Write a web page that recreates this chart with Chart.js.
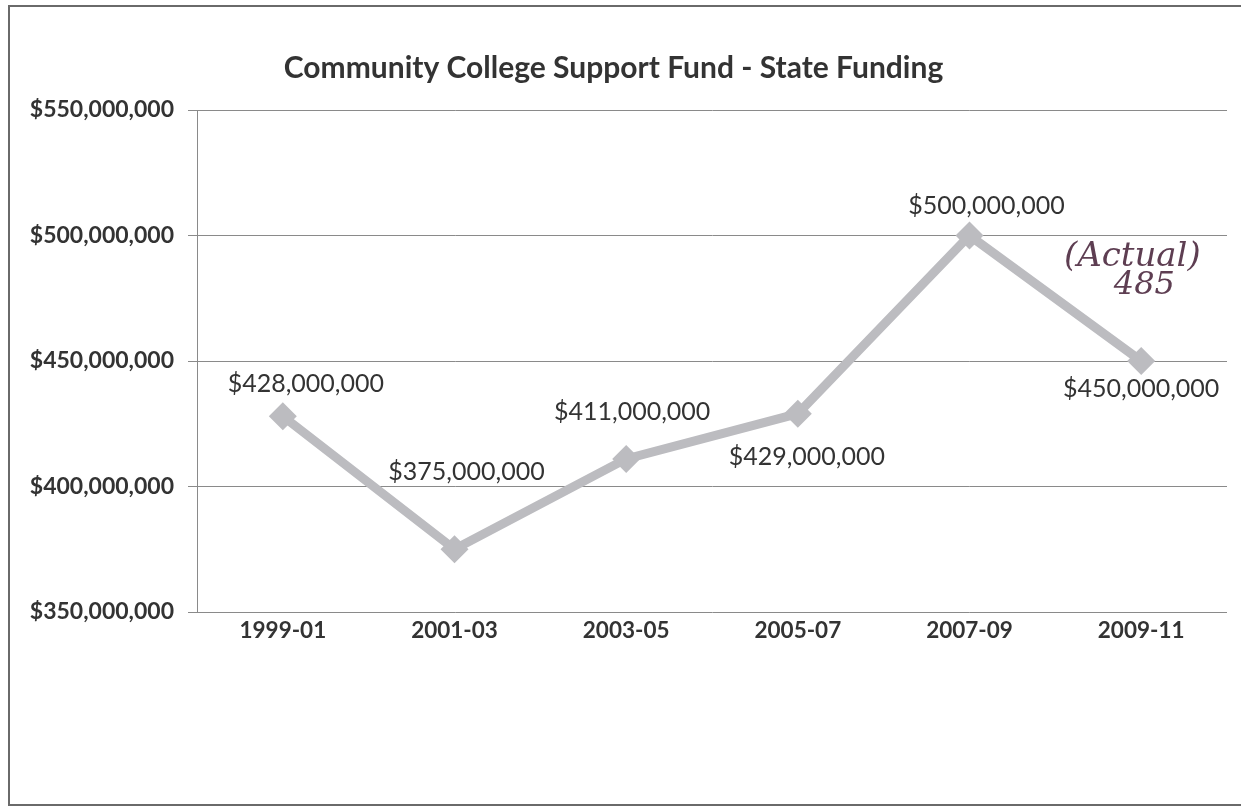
<!DOCTYPE html>
<html>
<head>
<meta charset="utf-8">
<script src="https://cdn.jsdelivr.net/npm/chart.js@4.4.1/dist/chart.umd.min.js"></script>
<style>
  html, body { margin: 0; padding: 0; background: #fff; }
  #wrap { position: relative; width: 1241px; height: 811px; overflow: hidden; }
  #frame {
    position: absolute; left: 8px; top: 5px; width: 1240px; height: 801px;
    border: 2px solid #6a6a6a; box-sizing: border-box; pointer-events: none;
  }
  canvas { position: absolute; left: 0; top: 0; }
</style>
</head>
<body>
<div id="wrap">
  <canvas id="chart" width="1241" height="811"></canvas>
  <div id="frame"></div>
</div>
<script>
  /* ---- data ------------------------------------------------------- */
  const categories = ["1999-01", "2001-03", "2003-05", "2005-07", "2007-09", "2009-11"];
  const funding    = [428000000, 375000000, 411000000, 429000000, 500000000, 450000000];
  const yTicks     = [350000000, 400000000, 450000000, 500000000, 550000000];
  const noteLines  = ["(Actual)", "485"];

  /* label nudges, as Excel left them (px from the marker) */
  const labelNudge = [[23, -32], [12, -77], [6, -47], [9, 43], [17, -30], [0, 28]];

  const FONT   = "Lato, 'Open Sans', sans-serif";
  const C_LINE = "#bcbcc0";
  const C_TEXT = "#333333";

  function money(v) { return "$" + Number(v).toLocaleString("en-US"); }

  /* ---- plugin: data labels --------------------------------------- */
  const valueLabels = {
    id: "valueLabels",
    afterDatasetsDraw(chart) {
      const ctx  = chart.ctx;
      const meta = chart.getDatasetMeta(0);
      ctx.save();
      ctx.font = "25px " + FONT;
      ctx.fillStyle = C_TEXT;
      ctx.textAlign = "center";
      ctx.textBaseline = "middle";
      meta.data.forEach((pt, i) => {
        const [dx, dy] = labelNudge[i];
        ctx.fillText(money(funding[i]), pt.x + dx, pt.y + dy);
      });
      ctx.restore();
    },
  };

  /* ---- plugin: the pen note on the scan -------------------------- */
  const penNote = {
    id: "penNote",
    afterDraw(chart) {
      const { ctx, scales } = chart;
      const x = scales.x.getPixelForValue(4.5) + 77;
      const y = scales.y.getPixelForValue(485000000);
      ctx.save();
      ctx.fillStyle = "#5e3e52";
      ctx.textAlign = "center";
      ctx.textBaseline = "middle";
      ctx.font = "italic 34px 'DejaVu Serif', serif";
      ctx.fillText(noteLines[0], x, y - 16);
      ctx.font = "italic 32px 'DejaVu Serif', serif";
      ctx.fillText(noteLines[1], x + 12, y + 13);
      ctx.restore();
    },
  };

  new Chart(document.getElementById("chart").getContext("2d"), {
    type: "line",
    data: {
      labels: categories,
      datasets: [{
        data: funding,
        borderColor: C_LINE,
        backgroundColor: C_LINE,
        borderWidth: 9,
        pointStyle: "rectRot",
        pointRadius: 14,
        pointBorderWidth: 0,
        tension: 0,
      }],
    },
    options: {
      responsive: false,
      animation: false,
      devicePixelRatio: 1,
      layout: { padding: { left: 0, right: 14, top: 0, bottom: 150 } },
      plugins: {
        legend: { display: false },
        tooltip: { enabled: false },
        title: {
          display: true,
          text: "Community College Support Fund - State Funding",
          color: C_TEXT,
          font: { family: FONT, size: 30, weight: "bold" },
          padding: { top: 50, bottom: 24 },
        },
      },
      scales: {
        x: {
          offset: true,
          grid: { display: false, drawTicks: false, tickLength: 0 },
          border: { display: false },
          ticks: {
            color: C_TEXT,
            padding: 5,
            font: { family: FONT, size: 22.5, weight: "bold" },
          },
          afterFit: (s) => { s.height = 49; },
        },
        y: {
          min: yTicks[0],
          max: yTicks[yTicks.length - 1],
          afterBuildTicks: (s) => { s.ticks = yTicks.map((v) => ({ value: v })); },
          grid: { color: "#8a8a8a", lineWidth: 1, tickLength: 9 },
          border: { display: true, color: "#8a8a8a", width: 1 },
          ticks: {
            color: C_TEXT,
            padding: 14,
            font: { family: FONT, size: 23, weight: "bold" },
            callback: (v) => money(v),
          },
          afterFit: (s) => { s.width = 197; },
        },
      },
    },
    plugins: [valueLabels, penNote],
  });
</script>
</body>
</html>
